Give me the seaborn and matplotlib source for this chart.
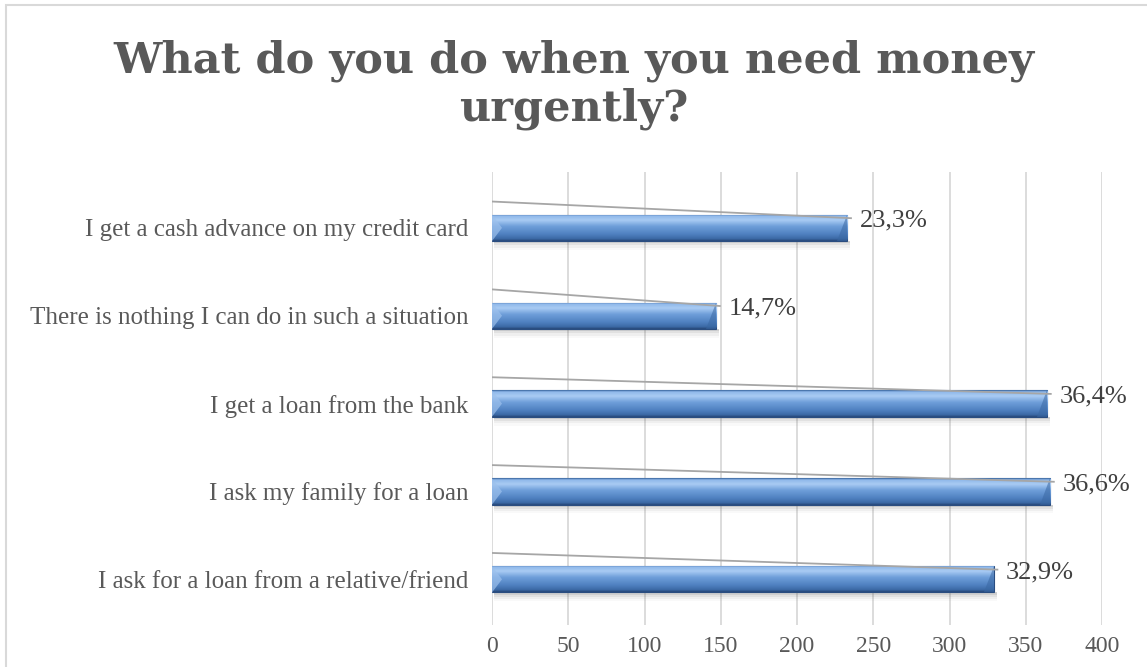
import numpy as np
import pandas as pd
import matplotlib
matplotlib.use("Agg")
import matplotlib.pyplot as plt
from matplotlib.patches import Rectangle, Polygon
from matplotlib.colors import to_rgb
import seaborn as sns

categories = [
    "I get a cash advance on my credit card",
    "There is nothing I can do in such a situation",
    "I get a loan from the bank",
    "I ask my family for a loan",
    "I ask for a loan from a relative/friend",
]
shares_pct = [23.3, 14.7, 36.4, 36.6, 32.9]
counts = [233, 147, 364, 366, 329]
x_ticks = [0, 50, 100, 150, 200, 250, 300, 350, 400]
title_lines = ["What do you do when you need money", "urgently?"]

df = pd.DataFrame({"answer": categories, "count": counts})

sns.set_theme(style="white")
plt.rcParams["font.family"] = ["Liberation Serif", "DejaVu Serif"]

W, H = 1147, 667
fig = plt.figure(figsize=(W / 100, H / 100), dpi=100)
fig.patch.set_facecolor("white")

# chart frame
fig.add_artist(Rectangle((6 / W, -0.05), 1.2, 1 - 5 / H + 0.05,
                         transform=fig.transFigure, fill=False,
                         edgecolor="#d9d9d9", linewidth=1.5))

ax = fig.add_axes([492 / W, 1 - 625 / H, 610 / W, 453 / H])
bar_h = 0.3
sns.barplot(data=df, x="count", y="answer", orient="h", width=bar_h,
            color="#4f81bd", ax=ax, zorder=3)

# vertical gradient of the bar face, top to bottom
stops = [(0.00, "#3a679f"), (0.06, "#8fb8ea"), (0.22, "#a9cbf3"),
         (0.45, "#6f9fda"), (0.75, "#4f80c0"), (0.92, "#3c6aa6"), (1.00, "#27487a")]
n = 64
pos = np.linspace(0, 1, n)
cols = np.array([to_rgb(c) for _, c in stops])
sp = np.array([s for s, _ in stops])
grad = np.stack([np.interp(pos, sp, cols[:, k]) for k in range(3)], axis=1)[:, None, :]

px_per_unit_x = 610 / 400
for i, patch in enumerate(list(ax.patches)):
    x0, y0 = patch.get_x(), patch.get_y()
    w, h = patch.get_width(), patch.get_height()
    top, bot = y0, y0 + h
    patch.set_facecolor("none")
    patch.set_edgecolor("#2a4d80")
    patch.set_linewidth(0.8)
    # soft shadow beneath the bar
    for k, a in enumerate([0.10, 0.07, 0.05, 0.03]):
        ax.add_patch(Rectangle((x0 + 1, bot), w + 1, 0.025 * (k + 1),
                               facecolor="#404040", alpha=a, edgecolor="none", zorder=2))
    im = ax.imshow(grad, extent=(x0, x0 + w, bot, top), origin="upper",
                   aspect="auto", zorder=3, interpolation="bilinear")
    im.set_clip_path(patch)
    # bevelled ends
    dx = 10 / px_per_unit_x
    mid = (top + bot) / 2
    ax.add_patch(Polygon([(x0, top), (x0 + dx, mid), (x0, bot)], closed=True,
                         facecolor="#9cc0ec", edgecolor="none", alpha=0.7, zorder=4))
    xe = x0 + w
    ax.add_patch(Polygon([(xe, top), (xe, bot), (xe - dx, bot)],
                         closed=True, facecolor="#3a68a3", edgecolor="none", alpha=0.55, zorder=4))
    # perspective guide line and value label
    ax.plot([0, xe + 3], [i - 0.30, i - 0.11], color="#a6a6a6", lw=1.3, zorder=5,
            solid_capstyle="butt")
    ax.text(xe + 8, i - 0.08, f"{shares_pct[i]:.1f}%".replace(".", ","),
            ha="left", va="center", fontsize=19, color="#404040", zorder=6)

ax.set_xlim(0, 400)
ax.set_ylim(4.52, -0.636)
ax.set_xticks(x_ticks)
ax.set_xticklabels([str(t) for t in x_ticks])
ax.grid(axis="x", color="#d9d9d9", linewidth=1.3, zorder=0)
ax.set_axisbelow(True)
for s in ax.spines.values():
    s.set_visible(False)
ax.set_xlabel("")
ax.set_ylabel("")
ax.tick_params(axis="x", length=0, pad=8, labelsize=17, labelcolor="#595959")
ax.tick_params(axis="y", length=0, pad=17, labelsize=18, labelcolor="#595959")

# two-line title, baselines placed individually
for line, base_px in zip(title_lines, [73, 121]):
    fig.text(0.5, 1 - base_px / H, line, ha="center", va="baseline", fontsize=31,
             fontweight="bold", color="#595959",
             family=["DejaVu Serif", "Liberation Serif"])

fig.savefig("out.png", dpi=100)
